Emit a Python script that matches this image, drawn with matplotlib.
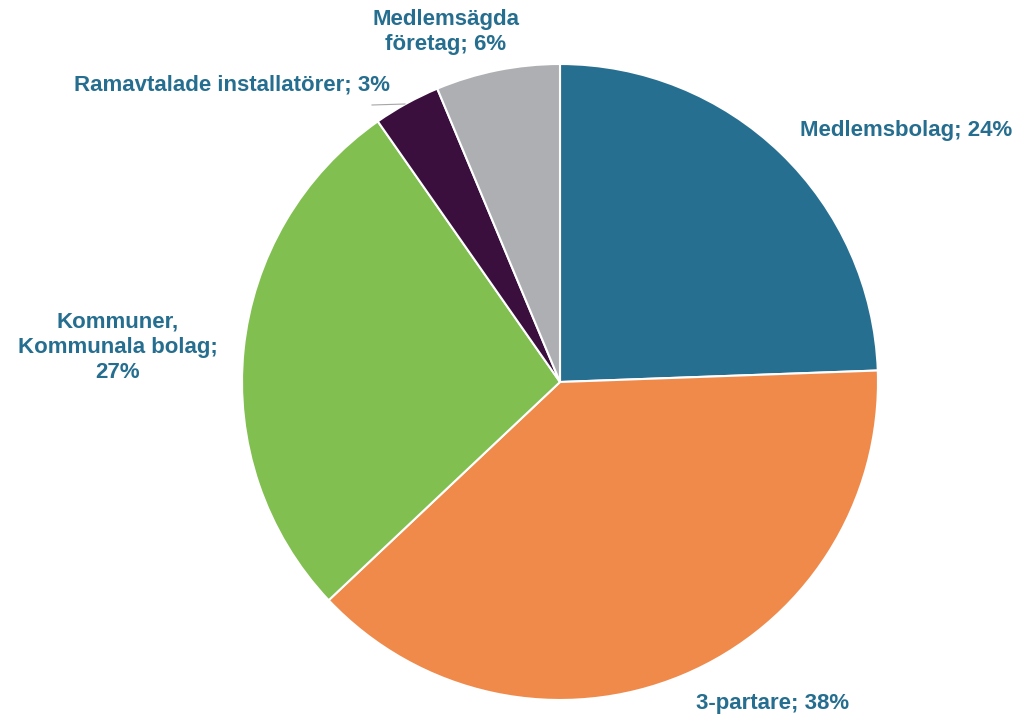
import matplotlib.pyplot as plt

plt.rcParams["font.family"] = ["Liberation Sans", "DejaVu Sans"]

# andelar (%), medurs från kl 12
names = ["Medlemsbolag", "3-partare", "Kommuner,\nKommunala bolag;\n", "Ramavtalade installatörer", "Medlemsägda\nföretag"]
values = [24.4, 38.5, 27.3, 3.4, 6.3]
colors = ["#276F91", "#F08A4B", "#80BF50", "#3A0F3E", "#ADAFB2"]

LABEL_COLOR = "#266E8F"


def main():
    fig = plt.figure(figsize=(10.23, 7.25), dpi=100)
    ax = fig.add_axes([0, 0, 1, 1])

    ax.pie(
        values,
        colors=colors,
        startangle=90,
        counterclock=False,
        center=(560, 343),
        radius=318,
        wedgeprops=dict(edgecolor="white", linewidth=1.5),
        frame=True,
    )
    ax.set_xlim(0, 1023)
    ax.set_ylim(0, 725)
    ax.set_aspect("equal")
    ax.axis("off")

    pct = [f"{round(v)}%" for v in values]
    # etikettpositioner (pixlar från nederkant)
    pos = [(906, 595), (773, 22), (118, 378), (232, 640), (446, 693)]
    texts = [
        f"{names[0]}; {pct[0]}",
        f"{names[1]}; {pct[1]}",
        f"{names[2]}{pct[2]}",
        f"{names[3]}; {pct[3]}",
        f"{names[4]}; {pct[4]}",
    ]
    for (x, y), t in zip(pos, texts):
        ax.text(x, y, t, ha="center", va="center", fontsize=16, fontweight="bold",
                color=LABEL_COLOR, linespacing=1.25)

    # ledlinje för Ramavtalade
    ax.plot([372, 405], [620, 621], color="#A6A6A6", linewidth=0.8)

    fig.savefig("out.png", dpi=100)


if __name__ == "__main__":
    main()
